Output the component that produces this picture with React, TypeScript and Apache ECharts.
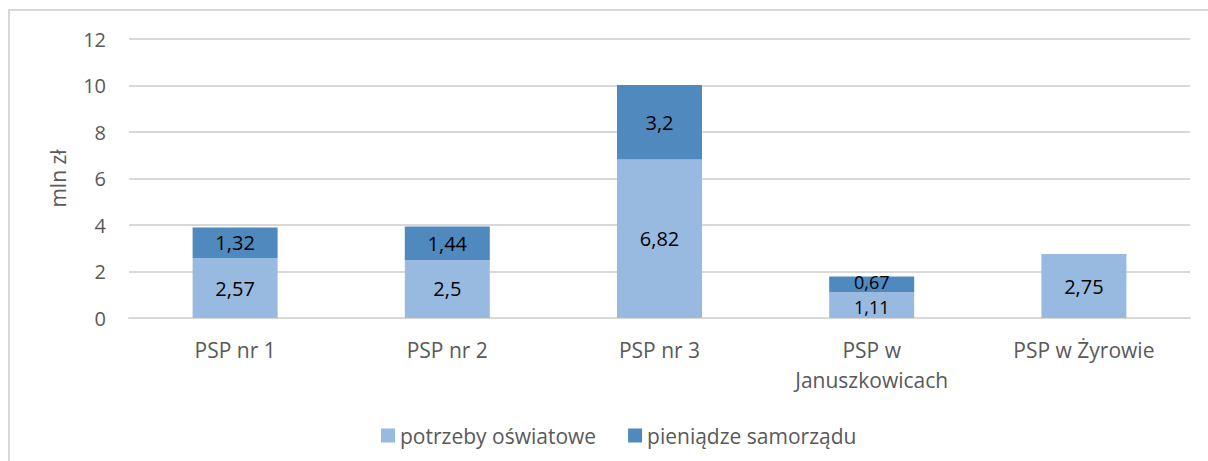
import React, { useEffect, useRef } from "react";
import * as echarts from "echarts";

const categories = ["PSP nr 1", "PSP nr 2", "PSP nr 3", "PSP w\nJanuszkowicach", "PSP w Żyrowie"];
const potrzeby = [2.57, 2.5, 6.82, 1.11, 2.75];
const pieniadze: (number | null)[] = [1.32, 1.44, 3.2, 0.67, null];
const seriesNames = ["potrzeby oświatowe", "pieniądze samorządu"];
const yTicks = { min: 0, max: 12, interval: 2 };

const FONT = "'Open Sans', sans-serif";
const TIGHT_INDEX = 3; // short bar whose two labels sit close together

export default function App() {
  const ref = useRef<HTMLDivElement>(null);
  useEffect(() => {
    if (!ref.current) return;
    const chart = echarts.init(ref.current, undefined, { renderer: "svg" });
    const label = {
      show: true,
      position: "inside" as const,
      color: "#000",
      fontSize: 20,
      lineHeight: 18,
      fontFamily: FONT,
      formatter: (p: any) => String(p.value).replace(".", ","),
    };
    const withTight = (arr: (number | null)[], dy: number) =>
      arr.map((v, i) =>
        i === TIGHT_INDEX ? { value: v, label: { fontSize: 18, lineHeight: 16, offset: [0, dy] } } : v
      );
    chart.setOption({
      animation: false,
      textStyle: { fontFamily: FONT },
      grid: { left: 129, right: 18, top: 39, bottom: 143 },
      legend: {
        left: 376,
        top: 420,
        itemWidth: 14,
        itemHeight: 14,
        itemGap: 32,
        itemTextGap: 6,
        icon: "rect",
        textStyle: { color: "#595959", fontSize: 21, fontFamily: FONT },
        data: seriesNames,
      },
      xAxis: {
        type: "category",
        data: categories,
        axisLine: { lineStyle: { color: "#d9d9d9", width: 2 } },
        axisTick: { show: false },
        axisLabel: { color: "#595959", fontSize: 21, lineHeight: 30, margin: 17, fontFamily: FONT },
      },
      yAxis: {
        type: "value",
        min: yTicks.min,
        max: yTicks.max,
        interval: yTicks.interval,
        name: "mln zł",
        nameLocation: "middle",
        nameGap: 61,
        nameTextStyle: { color: "#595959", fontSize: 21, fontFamily: FONT },
        axisLabel: { color: "#595959", fontSize: 20, margin: 23, fontFamily: FONT },
        splitLine: { lineStyle: { color: "#d9d9d9", width: 2 } },
        axisLine: { show: false },
        axisTick: { show: false },
      },
      series: [
        {
          name: seriesNames[0],
          type: "bar",
          stack: "a",
          data: withTight(potrzeby, 2),
          barWidth: 85,
          itemStyle: { color: "#98b9e0" },
          label,
        },
        {
          name: seriesNames[1],
          type: "bar",
          stack: "a",
          data: withTight(pieniadze, -2),
          barWidth: 85,
          itemStyle: { color: "#4f89bd" },
          label,
        },
      ],
    });
    return () => chart.dispose();
  }, []);
  return (
    <div style={{ position: "fixed", left: 0, top: 0, width: 1208, height: 461, overflow: "hidden", background: "#fff" }}>
      <div
        style={{
          position: "absolute",
          left: 8,
          top: 9,
          width: 1300,
          height: 600,
          border: "2px solid #d9d9d9",
        }}
      />
      <div ref={ref} style={{ position: "absolute", left: 0, top: 0, width: 1208, height: 461 }} />
    </div>
  );
}
